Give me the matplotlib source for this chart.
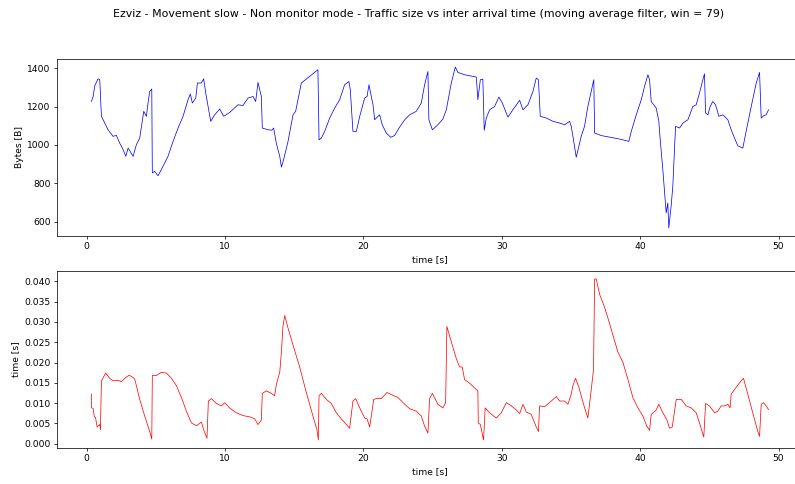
import matplotlib
matplotlib.use("Agg")
import matplotlib.pyplot as plt

# Moving-average traffic size (win = 79), sampled along the capture
size_t = [0.34, 0.46, 0.58, 0.82, 0.94, 1.06, 1.30, 1.54, 1.90, 2.14, 2.38, 2.63, 2.82, 2.99,
          3.35, 3.59, 3.83, 4.12, 4.31, 4.43, 4.55, 4.70, 4.74, 4.91, 5.15, 5.51, 5.87, 6.24,
          6.60, 6.96, 7.32, 7.49, 7.63, 7.88, 8.00, 8.29, 8.45, 8.60, 8.77, 8.96, 9.25, 9.61,
          9.90, 10.33, 10.93, 11.29, 11.66, 12.02, 12.21, 12.38, 12.62, 12.69, 13.10, 13.38,
          13.51, 13.70, 13.95, 14.07, 14.23, 14.55, 14.91, 15.10, 15.51, 16.71, 16.79, 16.96,
          17.20, 17.56, 17.92, 18.28, 18.64, 18.95, 19.05, 19.24, 19.49, 19.73, 20.09, 20.26,
          20.40, 20.69, 20.81, 21.17, 21.36, 21.65, 21.97, 22.25, 22.57, 22.98, 23.34, 23.82,
          24.18, 24.42, 24.66, 24.73, 24.98, 25.38, 25.74, 25.99, 26.35, 26.64, 26.83, 27.31,
          28.16, 28.27, 28.45, 28.63, 28.73, 28.88, 29.12, 29.48, 29.79, 30.04, 30.44, 30.80,
          31.29, 31.53, 31.89, 32.25, 32.49, 32.65, 32.78, 33.22, 33.69, 34.18, 34.54, 34.90,
          35.02, 35.14, 35.38, 35.74, 35.98, 36.22, 36.65, 36.71, 37.19, 37.79, 38.51, 39.18,
          39.36, 39.72, 40.08, 40.32, 40.56, 40.68, 40.80, 41.16, 41.35, 41.45, 41.64, 41.88,
          42.00, 42.07, 42.25, 42.36, 42.56, 42.85, 43.09, 43.45, 43.81, 44.05, 44.29, 44.53,
          44.65, 44.73, 44.90, 45.06, 45.25, 45.45, 45.69, 45.98, 46.34, 46.58, 46.82, 47.06,
          47.42, 47.66, 48.03, 48.39, 48.63, 48.75, 48.92, 49.11, 49.28]
size_b = [1226, 1252, 1308, 1344, 1339, 1149, 1114, 1079, 1045, 1050, 1010, 976, 941, 984,
          941, 1002, 1036, 1175, 1149, 1218, 1278, 1291, 855, 863, 840, 889, 941, 1019,
          1088, 1149, 1235, 1265, 1218, 1244, 1322, 1322, 1344, 1270, 1200, 1123, 1157, 1187,
          1149, 1169, 1209, 1205, 1244, 1252, 1226, 1325, 1252, 1088, 1079, 1077,
          1088, 1010, 941, 885, 924, 1019, 1157, 1175, 1322, 1391, 1027, 1036,
          1071, 1140, 1192, 1235, 1313, 1330, 1287, 1071, 1071, 1149, 1244, 1252,
          1313, 1209, 1131, 1157, 1105, 1062, 1040, 1049, 1088, 1131, 1157, 1175,
          1218, 1313, 1382, 1131, 1079, 1105, 1135, 1183, 1322, 1405, 1377, 1365,
          1353, 1235, 1339, 1342, 1076, 1140, 1183, 1200, 1249, 1218, 1145, 1183,
          1232, 1183, 1209, 1278, 1348, 1339, 1149, 1140, 1123, 1114, 1105, 1123,
          1097, 1045, 936, 1045, 1097, 1200, 1339, 1062, 1049, 1041, 1031, 1019,
          1071, 1157, 1235, 1305, 1365, 1339, 1226, 1192, 1123, 1027, 872, 647,
          699, 569, 690, 785, 1097, 1088, 1114, 1131, 1200, 1209, 1270, 1339,
          1370, 1166, 1157, 1200, 1226, 1209, 1149, 1157, 1131, 1079, 1036, 996,
          984, 1071, 1200, 1322, 1377, 1140, 1152, 1157, 1183]

# Moving-average inter arrival time
iat_t = [0.34, 0.35, 0.46, 0.55, 0.63, 0.75, 0.94, 0.99, 1.06, 1.37, 1.66, 1.90, 2.26, 2.50,
         2.75, 3.06, 3.35, 3.47, 3.83, 4.19, 4.55, 4.70, 4.74, 5.03, 5.39, 5.76, 6.12, 6.48,
         6.84, 7.20, 7.56, 7.93, 8.29, 8.45, 8.69, 8.79, 9.01, 9.37, 9.73, 9.97, 10.33, 10.81,
         11.30, 11.78, 12.14, 12.38, 12.62, 12.69, 12.98, 13.34, 13.58, 13.71, 13.95, 14.07,
         14.18, 14.31, 14.55, 14.91, 15.39, 15.87, 16.11, 16.35, 16.64, 16.74, 16.79, 16.96,
         17.32, 17.68, 18.04, 18.40, 18.76, 19.00, 19.12, 19.24, 19.44, 19.73, 20.09, 20.26,
         20.45, 20.57, 20.74, 20.93, 21.29, 21.70, 22.13, 22.49, 22.86, 23.34, 23.82, 24.18,
         24.42, 24.66, 24.78, 24.98, 25.38, 25.74, 25.94, 26.03, 26.35, 26.71, 26.95, 27.14,
         27.31, 27.67, 28.27, 28.30, 28.45, 28.63, 28.68, 28.80, 29.12, 29.60, 29.96, 30.33,
         30.69, 31.05, 31.29, 31.53, 31.77, 32.13, 32.49, 32.65, 32.73, 33.09, 33.45, 33.94,
         34.18, 34.54, 34.78, 35.02, 35.14, 35.33, 35.57, 35.91, 36.22, 36.47, 36.63, 36.71,
         36.83, 37.07, 37.36, 37.67, 38.03, 38.39, 38.75, 39.11, 39.47, 39.84, 40.20, 40.48,
         40.68, 40.80, 41.16, 41.35, 41.64, 41.93, 42.12, 42.32, 42.61, 42.97, 43.33, 43.69,
         44.05, 44.29, 44.60, 44.73, 45.01, 45.38, 45.61, 45.86, 46.10, 46.34, 46.50, 46.58,
         46.94, 47.30, 47.47, 47.78, 48.14, 48.50, 48.63, 48.75, 48.92, 49.11, 49.28]
iat_s = [0.0122, 0.0088, 0.0087, 0.0066, 0.0065, 0.0041, 0.0047, 0.0034, 0.0155, 0.0174,
         0.0161, 0.0155, 0.0156, 0.0153, 0.0161, 0.0169, 0.0163, 0.0159, 0.0109, 0.0068,
         0.0030, 0.0011, 0.0168, 0.0168, 0.0176, 0.0174, 0.0161, 0.0143, 0.0114, 0.0080,
         0.0051, 0.0044, 0.0053, 0.0034, 0.0013, 0.0105, 0.0111, 0.0099, 0.0093, 0.0101,
         0.0088, 0.0076, 0.0069, 0.0066, 0.0061, 0.0047, 0.0058, 0.0124, 0.0130, 0.0124,
         0.0118, 0.0147, 0.0176, 0.0226, 0.0289, 0.0316, 0.0285, 0.0243, 0.0189, 0.0126,
         0.0097, 0.0068, 0.0034, 0.0009, 0.0118, 0.0124, 0.0109, 0.0099, 0.0076, 0.0061,
         0.0047, 0.0038, 0.0072, 0.0105, 0.0111, 0.0088, 0.0063, 0.0061, 0.0041, 0.0068,
         0.0109, 0.0111, 0.0111, 0.0126, 0.0119, 0.0114, 0.0101, 0.0086, 0.0080, 0.0068,
         0.0043, 0.0026, 0.0111, 0.0124, 0.0097, 0.0088, 0.0101, 0.0289, 0.0251, 0.0210,
         0.0189, 0.0189, 0.0158, 0.0149, 0.0130, 0.0051, 0.0047, 0.0018, 0.0009, 0.0088,
         0.0076, 0.0063, 0.0076, 0.0101, 0.0093, 0.0083, 0.0074, 0.0097, 0.0078, 0.0072,
         0.0041, 0.0030, 0.0093, 0.0091, 0.0101, 0.0116, 0.0105, 0.0105, 0.0097, 0.0122,
         0.0143, 0.0161, 0.0139, 0.0097, 0.0063, 0.0134, 0.0184, 0.0406, 0.0406, 0.0368,
         0.0343, 0.0310, 0.0268, 0.0226, 0.0201, 0.0159, 0.0114, 0.0088, 0.0068, 0.0043,
         0.0033, 0.0072, 0.0083, 0.0097, 0.0076, 0.0059, 0.0038, 0.0041, 0.0109, 0.0109,
         0.0093, 0.0088, 0.0076, 0.0051, 0.0016, 0.0099, 0.0093, 0.0076, 0.0080, 0.0093,
         0.0093, 0.0097, 0.0088, 0.0122, 0.0139, 0.0155, 0.0161, 0.0122, 0.0076, 0.0030,
         0.0018, 0.0097, 0.0101, 0.0093, 0.0084]

DPI = 66
fig = plt.figure(figsize=(795 / DPI, 484 / DPI), dpi=DPI)
fig.suptitle("Ezviz - Movement slow - Non monitor mode - Traffic size vs inter arrival time "
             "(moving average filter, win = 79)", x=0.527, y=0.971, va="center")

# right edge sits just past the figure border
ax1 = fig.add_axes([0.0717, 0.5124, 0.938, 0.3657])
ax1.plot(size_t, size_b, color="b", linewidth=0.8)
ax1.set_xlabel("time [s]")
ax1.set_ylabel("Bytes [B]")
ax1.set_xticks([0, 10, 20, 30, 40, 50])
ax1.set_yticks([600, 800, 1000, 1200, 1400])

ax2 = fig.add_axes([0.0717, 0.0744, 0.938, 0.3657])
ax2.plot(iat_t, iat_s, color="r", linewidth=0.8)
ax2.set_xlabel("time [s]")
ax2.set_ylabel("time [s]")
ax2.set_xticks([0, 10, 20, 30, 40, 50])
ax2.set_yticks([0.0, 0.005, 0.01, 0.015, 0.02, 0.025, 0.03, 0.035, 0.04])
ax2.yaxis.set_major_formatter(matplotlib.ticker.FormatStrFormatter("%.3f"))

for ax in (ax1, ax2):
    ax.set_xlim(-2.15, 51.75)

plt.savefig("out.png", dpi=DPI)
